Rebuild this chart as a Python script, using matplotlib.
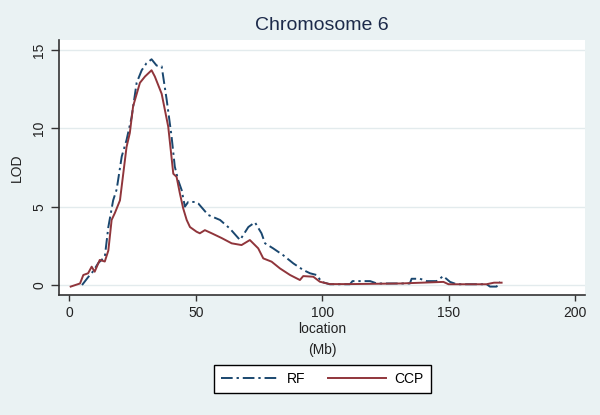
import matplotlib
matplotlib.use("Agg")
import matplotlib.pyplot as plt

plt.rcParams['font.family'] = ['Liberation Sans', 'DejaVu Sans']

# LOD curves
rf_x = [5, 7.4, 9.5, 11.4, 14, 15.4, 17.3, 18.7, 20.7, 22.6, 24.6, 26.6, 28.6, 30.5,
        32.5, 34.5, 36.5, 38.5, 40.4, 41.7, 43, 44.4, 45.7, 47, 49.7, 51, 54.9, 59.6,
        63.5, 67.5, 70.8, 73.4, 76, 77.4, 80.6, 84.6, 88.6, 92.5, 95.2, 97.8, 99.8,
        103, 111, 112, 119, 121.6, 134.7, 135.4, 138.7, 141.4, 145.3, 147.9, 150.6,
        153.2, 165.1, 166.4, 169, 170.4]
rf_lod = [0, 0.5, 0.9, 1.4, 1.8, 3.7, 5.4, 6.1, 8.2, 9.25, 10.7, 12.9, 13.7, 14.15,
          14.4, 14.0, 13.95, 11.8, 9.5, 7.55, 6.7, 6.06, 5.0, 5.3, 5.3, 5.2, 4.47, 4.15,
          3.6, 2.87, 3.7, 4.0, 3.3, 2.66, 2.34, 1.9, 1.38, 0.96, 0.75, 0.64, 0.2,
          0.05, 0.05, 0.25, 0.25, 0.1, 0.1, 0.4, 0.4, 0.25, 0.25, 0.57, 0.2,
          0.05, 0.05, -0.1, -0.1, 0.2]

ccp_x = [0.5, 4.2, 5.5, 7.4, 8.8, 10, 12, 14, 15.4, 16.7, 18, 20, 21.3, 22.6, 23.9,
         25.2, 27.9, 29.9, 32.5, 33.8, 36.5, 39.1, 41.1, 42.4, 43.7, 45, 46.4, 47.7,
         50.3, 51.6, 53.6, 56.3, 60.2, 64.2, 68.1, 71.4, 74.7, 76.7, 80, 83.3, 87.3,
         91.2, 92.5, 96.5, 99.1, 103, 111, 131, 148, 150, 165, 168, 171]
ccp_lod = [-0.1, 0.1, 0.64, 0.75, 1.17, 0.85, 1.6, 1.5, 2.2, 4.15, 4.6, 5.4, 7.1, 8.8, 9.7,
           11.4, 12.9, 13.3, 13.7, 13.3, 12.2, 10.1, 7.1, 6.9, 5.85, 4.9, 4.15, 3.7,
           3.4, 3.3, 3.5, 3.3, 3.0, 2.66, 2.55, 2.87, 2.34, 1.7, 1.49, 1.06, 0.64,
           0.32, 0.57, 0.53, 0.21, 0.06, 0.06, 0.1, 0.2, 0.05, 0.05, 0.15, 0.15]

x_ticks = [0, 50, 100, 150, 200]
y_ticks = [0, 5, 10, 15]

bg = '#EAF2F3'
navy = '#1A476F'
maroon = '#90353B'

fig = plt.figure(figsize=(6, 4.15), dpi=100, facecolor=bg)
ax = fig.add_axes([0.098, 0.289, 0.877, 0.615])
ax.set_facecolor('white')

ax.plot(rf_x, rf_lod, color=navy, lw=1.4, dashes=(6, 2, 1.2, 2), label='RF')
ax.plot(ccp_x, ccp_lod, color=maroon, lw=1.4, label='CCP')

ax.set_xlim(-4.2, 204)
ax.set_ylim(-0.64, 15.64)
ax.set_xticks(x_ticks)
ax.set_yticks(y_ticks)
ax.grid(axis='y', color='#E3EBED', lw=1)
ax.set_axisbelow(True)

for s in ['top', 'right']:
    ax.spines[s].set_visible(False)
for s in ['left', 'bottom']:
    ax.spines[s].set_color('#333333')
    ax.spines[s].set_linewidth(1.2)

ax.tick_params(axis='both', labelsize=10, colors='#333333', labelcolor='#222222')
ax.tick_params(axis='y', length=6, width=1, pad=3, labelrotation=90)
ax.tick_params(axis='x', length=4, width=1, pad=4)
for lab in ax.get_yticklabels():
    lab.set_va('center')

ax.set_title('Chromosome 6', fontsize=14, color='#1C2A4A', pad=7)
ax.set_ylabel('LOD', fontsize=10, color='#222222', labelpad=6)
ax.set_xlabel('location\n(Mb)', fontsize=10, color='#222222', linespacing=1.7, labelpad=1)

leg = fig.legend(loc='center', bbox_to_anchor=(0.537, 0.087), ncol=2, fontsize=10,
                 frameon=True, fancybox=False, handlelength=4.2, columnspacing=1.6,
                 handletextpad=0.6, borderpad=0.5)
leg.get_frame().set_edgecolor('black')
leg.get_frame().set_linewidth(1)
leg.get_frame().set_facecolor('white')
leg.get_frame().set_alpha(1)

fig.savefig('out.png', dpi=100, facecolor=bg)
